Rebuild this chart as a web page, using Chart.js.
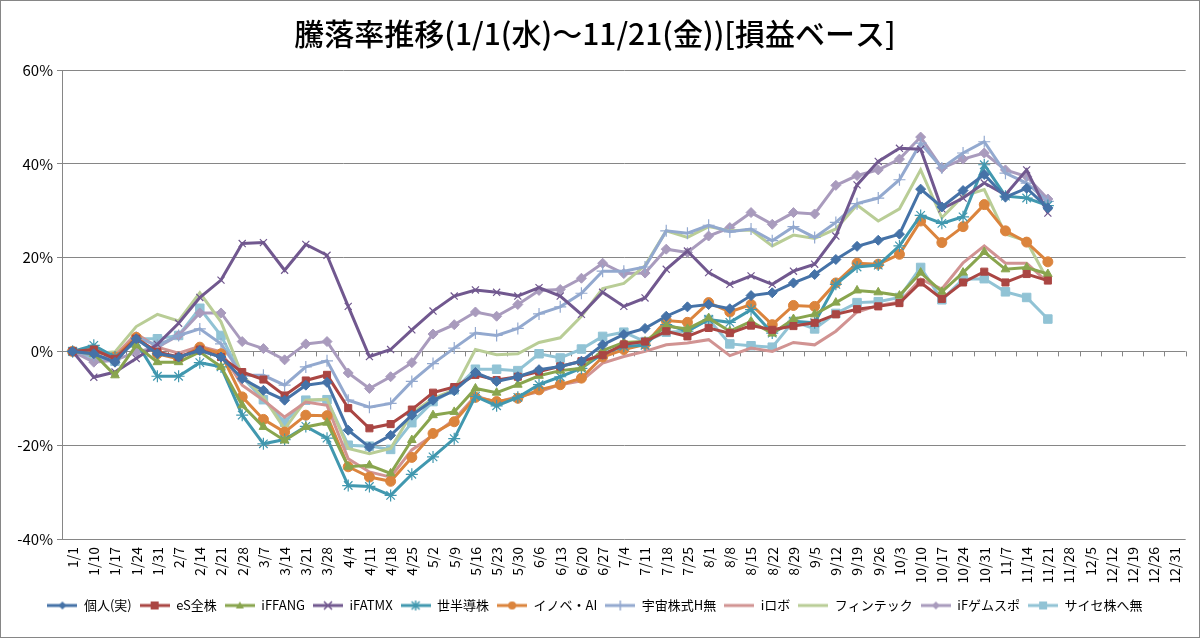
<!DOCTYPE html>
<html>
<head>
<meta charset="utf-8">
<script src="https://cdn.jsdelivr.net/npm/chart.js@4/dist/chart.umd.min.js"></script>
<style>
  html, body { margin: 0; padding: 0; background: #fff; }
  #wrap { width: 1200px; height: 638px; position: relative; }
</style>
</head>
<body>
<div id="wrap"><canvas id="Chart1" width="1200" height="638"></canvas></div>
<script>
// 週ごとの日付 (x軸)
const labels = ['1/1','1/10','1/17','1/24','1/31','2/7','2/14','2/21','2/28','3/7','3/14','3/21','3/28',
  '4/4','4/11','4/18','4/25','5/2','5/9','5/16','5/23','5/30','6/6','6/13','6/20','6/27',
  '7/4','7/11','7/18','7/25','8/1','8/8','8/15','8/22','8/29','9/5','9/12','9/19','9/26',
  '10/3','10/10','10/17','10/24','10/31','11/7','11/14','11/21','11/28','12/5','12/12','12/19','12/26','12/31'];

const yTicks = [-40, -20, 0, 20, 40, 60];

// 騰落率 (%)
const kojin = [0,-0.5,-2.3,2.7,-0.5,-1.2,0.2,-1.2,-5.8,-8.3,-10.4,-7.2,-6.6,-16.8,-20.4,-17.9,-13.6,-10.4,-8.4,-4.5,-6.4,-5.4,-3.9,-3.2,-2.1,1.4,3.6,4.9,7.5,9.5,10,9.1,11.9,12.5,14.6,16.4,19.6,22.4,23.7,25,34.6,30.8,34.3,37.7,32.9,34.8,30.6];
const esZen = [0,0.4,-1.6,2.7,-0.1,-1.2,0.4,-1.2,-4.4,-6,-9.4,-6.2,-5,-12.1,-16.4,-15.5,-12.4,-8.8,-7.6,-5,-6.1,-5.4,-4.3,-3.2,-2.1,-0.8,1.5,2.1,4.3,3.2,5,3.9,5.5,4.6,5.4,6.1,7.9,9,9.6,10.3,14.7,11.2,14.7,17,14.7,16.5,15.1];
const ifFang = [0,-0.5,-5.1,1.3,-2.3,-2.3,-0.1,-3.3,-11.5,-16.1,-19,-16.1,-15.2,-24.6,-24.3,-26,-18.9,-13.6,-12.9,-7.9,-8.8,-7.1,-5.2,-4.1,-3.6,0.2,1.9,2.1,5.4,4.8,7.1,4.3,6.4,3.8,6.9,7.9,10.4,13,12.6,11.9,16.8,12.7,16.8,21.2,17.5,17.9,16.5];
const ifatmx = [0,-5.5,-4.4,-1.5,1.5,6,11.5,15.2,23,23.2,17.3,22.8,20.5,9.6,-1.1,0.4,4.6,8.6,11.8,13.1,12.6,11.8,13.6,11.8,7.9,12.6,9.6,11.4,17.5,21.4,16.8,14.3,16.1,14.3,17.1,18.6,24.6,35.5,40.5,43.3,43.1,30.4,32.7,35.9,33.4,38.7,29.5];
const sekaiHandotai = [0,1.3,-1.2,2,-5.3,-5.3,-2.4,-3.3,-13.6,-19.7,-18.8,-16,-18.5,-28.6,-28.8,-30.7,-26.2,-22.5,-18.6,-9.6,-11.6,-9.8,-7.1,-5.4,-3.6,-0.5,1.1,1.3,5.7,4.3,6.8,6.2,8.9,3.9,6.4,6.1,14.3,18,18.4,22.5,29,27.3,28.7,39.8,33.1,32.7,31.1];
const innoAI = [0,0.2,-1.2,3,-0.5,-1.6,0.9,-0.5,-9.7,-14.5,-17.2,-13.6,-13.7,-24.6,-26.8,-27.7,-22.6,-17.5,-15,-9.8,-10.7,-10,-8.2,-7.1,-5.7,-1.2,0.4,1.5,6.6,6.2,10.4,8.4,10,5.7,9.8,9.6,14.6,18.8,18.6,20.7,27.8,23.2,26.6,31.3,25.7,23.3,19.1];
const uchu = [0,-0.9,-1.6,3,1.3,3.4,4.8,1.6,-5.1,-5.1,-7.2,-3.3,-2,-10.4,-11.9,-11.1,-6.4,-2.6,0.7,3.9,3.4,4.9,8,9.5,12.4,17.1,17.1,18,25.7,25.2,26.9,25.5,26.1,23.6,26.6,24.3,27.5,31.5,32.7,36.6,44.4,39.1,42.3,44.7,38,35.9,32];
const iRobo = [0,0.6,-0.9,3.8,0.9,-0.4,1.1,-0.1,-7.2,-10.4,-14,-10.8,-11.5,-22.9,-25.7,-26.8,-21,-17.9,-14.5,-9.5,-10.9,-9.6,-8.6,-7.1,-6.3,-2.5,-1.1,0,1.4,1.8,2.5,-0.9,0.7,0,1.9,1.4,4.3,8.4,9.8,10.5,15.4,13.3,18.9,22.5,18.8,18.8,14.7];
const fintech = [0,-0.5,-0.1,5.3,7.9,6.5,12.5,6.3,-5.1,-9.7,-16.5,-10.4,-10.2,-20.7,-21.8,-20.7,-13.2,-10,-8.2,0.4,-0.7,-0.5,1.9,2.9,7.5,13.4,14.5,18.3,25.7,24.3,26.6,25.7,25.9,22.5,24.8,24.1,26.1,31.2,27.8,30.4,38.7,28.5,33.1,34.5,25,23.5,15.1];
const ifGame = [0,-2.3,-1.9,-0.1,0.9,3.4,8.2,8.2,2.1,0.6,-1.8,1.6,2.1,-4.6,-7.9,-5.4,-2.4,3.7,5.7,8.4,7.5,10,13,13.2,15.6,18.8,16.6,16.7,21.8,21.1,24.6,26.4,29.6,27.1,29.6,29.3,35.4,37.5,38.7,41,45.7,39.1,41,42.3,38.7,37.3,32.5];
const cyber = [0,-1.4,-2.1,2.7,2.7,3.4,9.2,3.4,-5.5,-10.3,-15.1,-10.4,-10.3,-20,-20.2,-20.9,-15.2,-10.7,-8.2,-3.8,-3.8,-4.1,-0.5,-1.4,0.5,3.2,4.1,2.1,4.1,4.3,6.8,1.6,1.2,0.9,6.4,4.8,8.1,10.4,10.6,11.5,17.9,11,15.4,15.5,12.7,11.5,6.9];

const series = [
  { name: '個人(実)', data: kojin, color: '#4572A7', style: 'rectRot', r: 5 },
  { name: 'eS全株', data: esZen, color: '#AA4643', style: 'rect', r: 5 },
  { name: 'iFFANG', data: ifFang, color: '#89A54E', style: 'triangle', r: 5 },
  { name: 'iFATMX', data: ifatmx, color: '#71588F', style: 'crossRot', r: 5 },
  { name: '世半導株', data: sekaiHandotai, color: '#4198AF', style: 'star', r: 6 },
  { name: 'イノベ・AI', data: innoAI, color: '#DB843D', style: 'circle', r: 5 },
  { name: '宇宙株式H無', data: uchu, color: '#93A9CF', style: 'cross', r: 6 },
  { name: 'iロボ', data: iRobo, color: '#D19392', style: false, r: 0 },
  { name: 'フィンテック', data: fintech, color: '#B9CD96', style: false, r: 0 },
  { name: 'iFゲムスポ', data: ifGame, color: '#A99BBD', style: 'rectRot', r: 5 },
  { name: 'サイセ株へ無', data: cyber, color: '#91C3D5', style: 'rect', r: 6 }
];

// 凡例用の小さい画像 (線 + マーカー)
function legendIcon(s) {
  const c = document.createElement('canvas');
  c.width = 30; c.height = 14;
  const g = c.getContext('2d');
  g.strokeStyle = s.color; g.fillStyle = s.color; g.lineWidth = 3;
  g.beginPath(); g.moveTo(0, 7); g.lineTo(30, 7); g.stroke();
  const x = 15, y = 7, r = 4;
  g.lineWidth = 1.5;
  if (s.style === 'rectRot') {
    g.beginPath(); g.moveTo(x, y - r); g.lineTo(x + r, y); g.lineTo(x, y + r); g.lineTo(x - r, y); g.closePath(); g.fill();
  } else if (s.style === 'rect') {
    g.fillRect(x - r, y - r, 2 * r, 2 * r);
  } else if (s.style === 'triangle') {
    g.beginPath(); g.moveTo(x, y - r); g.lineTo(x + r, y + r - 1); g.lineTo(x - r, y + r - 1); g.closePath(); g.fill();
  } else if (s.style === 'circle') {
    g.beginPath(); g.arc(x, y, r, 0, Math.PI * 2); g.fill();
  } else if (s.style === 'crossRot') {
    g.beginPath(); g.moveTo(x - r, y - r); g.lineTo(x + r, y + r); g.moveTo(x + r, y - r); g.lineTo(x - r, y + r); g.stroke();
  } else if (s.style === 'cross') {
    g.beginPath(); g.moveTo(x, y - r - 1); g.lineTo(x, y + r + 1); g.stroke();
  } else if (s.style === 'star') {
    g.beginPath(); g.moveTo(x - r, y - r); g.lineTo(x + r, y + r); g.moveTo(x + r, y - r); g.lineTo(x - r, y + r);
    g.moveTo(x, y - r - 1); g.lineTo(x, y + r + 1); g.stroke();
  }
  return c;
}

// 0%の位置にx軸の目盛り
const zeroTicks = {
  id: 'zeroTicks',
  beforeDatasetsDraw(chart) {
    const { ctx, scales: { x, y } } = chart;
    const y0 = y.getPixelForValue(0);
    const half = (x.getPixelForValue(1) - x.getPixelForValue(0)) / 2;
    ctx.save();
    ctx.strokeStyle = '#868686';
    ctx.lineWidth = 1;
    ctx.beginPath();
    for (let i = 0; i <= labels.length; i++) {
      const px = Math.round(x.getPixelForValue(i) - half) + 0.5;
      ctx.moveTo(px, y0);
      ctx.lineTo(px, y0 + 5);
    }
    ctx.stroke();
    ctx.restore();
  }
};

const frame = {
  id: 'frame',
  afterDraw(chart) {
    const ctx = chart.ctx;
    ctx.save();
    ctx.strokeStyle = '#868686';
    ctx.lineWidth = 1;
    ctx.strokeRect(0.5, 0.5, chart.width - 1, chart.height - 1);
    ctx.restore();
  }
};

const font = "'Noto Sans CJK JP', 'Noto Sans', sans-serif";

new Chart(document.getElementById('Chart1'), {
  type: 'line',
  data: {
    labels: labels,
    datasets: series.map(s => ({
      label: s.name,
      data: s.data,
      borderColor: s.color,
      backgroundColor: s.color,
      borderWidth: 3,
      tension: 0,
      pointStyle: s.style,
      pointRadius: s.r,
      pointBorderWidth: (s.style === 'crossRot' || s.style === 'star' || s.style === 'cross') ? 1.2 : 1,
      pointBorderColor: s.color,
      pointBackgroundColor: s.color,
      fill: false
    }))
  },
  options: {
    responsive: false,
    animation: false,
    layout: { padding: { left: 4, right: 14, top: 0, bottom: 16 } },
    plugins: {
      title: {
        display: true,
        text: '騰落率推移(1/1(水)～11/21(金))[損益ベース]',
        color: '#000',
        font: { family: font, size: 30, weight: 500 },
        padding: { top: 16, bottom: 18 }
      },
      legend: {
        position: 'bottom',
        labels: {
          usePointStyle: true,
          pointStyleWidth: 30,
          generateLabels: chart => series.map((s, i) => ({
            text: s.name,
            pointStyle: legendIcon(s),
            fillStyle: s.color,
            strokeStyle: s.color,
            lineWidth: 0,
            hidden: false,
            datasetIndex: i
          })),
          color: '#000',
          font: { family: font, size: 13 },
          padding: 8
        }
      },
      tooltip: { enabled: false }
    },
    scales: {
      x: {
        offset: true,
        grid: { display: false, drawTicks: false },
        border: { display: false },
        ticks: {
          autoSkip: false,
          minRotation: 90,
          maxRotation: 90,
          color: '#000',
          padding: 8,
          font: { family: font, size: 14 }
        },
        afterFit: scale => { scale.height = 52; }
      },
      y: {
        min: -40,
        max: 60,
        afterBuildTicks: scale => { scale.ticks = yTicks.map(v => ({ value: v })); },
        grid: { color: '#868686', lineWidth: 1, tickLength: 5 },
        border: { color: '#868686' },
        ticks: {
          color: '#000',
          padding: 4,
          font: { family: font, size: 15 },
          callback: v => v + '%'
        },
        afterFit: scale => { scale.width = 58; }
      }
    }
  },
  plugins: [zeroTicks, frame]
});
</script>
</body>
</html>
